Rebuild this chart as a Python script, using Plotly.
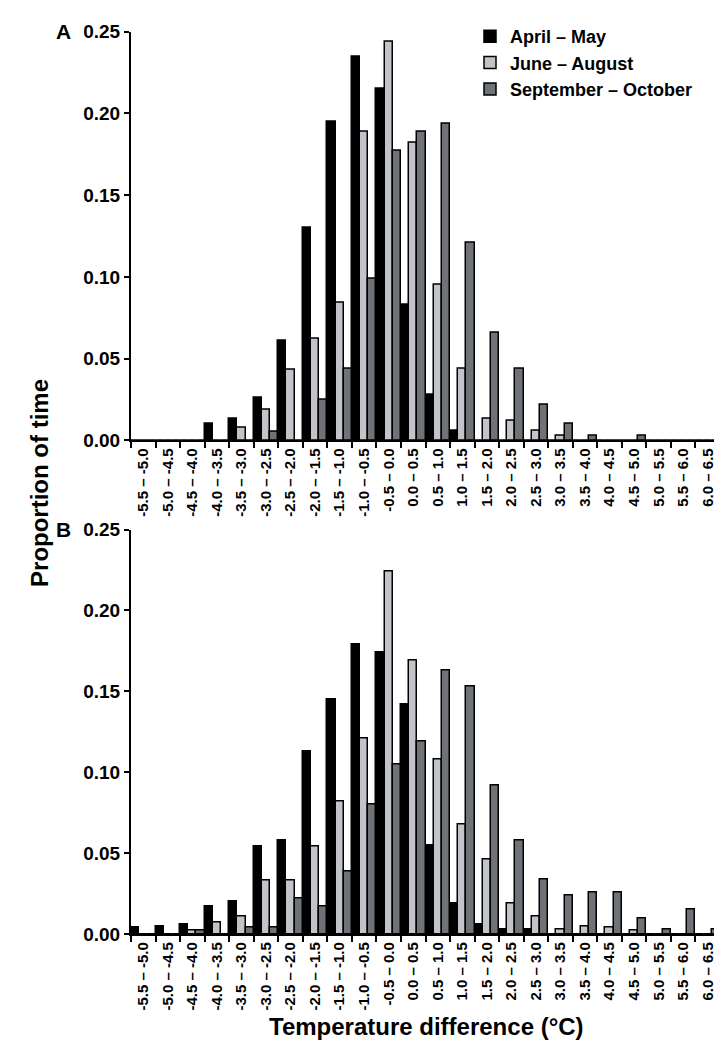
import plotly.graph_objects as go
from plotly.subplots import make_subplots

# temperature difference bins (degC)
bins = ["-5.5 – -5.0", "-5.0 – -4.5", "-4.5 – -4.0", "-4.0 – -3.5", "-3.5 – -3.0",
        "-3.0 – -2.5", "-2.5 – -2.0", "-2.0 – -1.5", "-1.5 – -1.0", "-1.0 – -0.5",
        "-0.5 – 0.0", "0.0 – 0.5", "0.5 – 1.0", "1.0 – 1.5", "1.5 – 2.0",
        "2.0 – 2.5", "2.5 – 3.0", "3.0 – 3.5", "3.5 – 4.0", "4.0 – 4.5",
        "4.5 – 5.0", "5.0 – 5.5", "5.5 – 6.0", "6.0 – 6.5"]

series_names = ["April – May", "June – August", "September – October"]

# panel A
a_apr_may = [0, 0, 0, 0.010, 0.013, 0.026, 0.061, 0.130, 0.195, 0.235, 0.215, 0.083,
             0.028, 0.006, 0, 0, 0, 0, 0, 0, 0, 0, 0, 0]
a_jun_aug = [0, 0, 0, 0, 0.008, 0.019, 0.043, 0.062, 0.084, 0.189, 0.244, 0.182,
             0.095, 0.044, 0.013, 0.012, 0.006, 0.003, 0, 0, 0, 0, 0, 0]
a_sep_oct = [0, 0, 0, 0, 0, 0.005, 0, 0.025, 0.044, 0.099, 0.177, 0.189,
             0.194, 0.121, 0.066, 0.044, 0.022, 0.010, 0.003, 0, 0.003, 0, 0, 0]

# panel B
b_apr_may = [0.004, 0.005, 0.006, 0.017, 0.020, 0.054, 0.058, 0.113, 0.145, 0.179, 0.174, 0.142,
             0.055, 0.019, 0.006, 0.003, 0.003, 0, 0, 0, 0, 0, 0, 0]
b_jun_aug = [0, 0, 0.002, 0.007, 0.011, 0.033, 0.033, 0.054, 0.082, 0.121, 0.224, 0.169,
             0.108, 0.068, 0.046, 0.019, 0.011, 0.003, 0.005, 0.004, 0.002, 0, 0, 0]
b_sep_oct = [0, 0, 0.002, 0, 0.004, 0.004, 0.022, 0.017, 0.039, 0.080, 0.105, 0.119,
             0.163, 0.153, 0.092, 0.058, 0.034, 0.024, 0.026, 0.026, 0.010, 0.003, 0.015, 0.003]

colors = ["#000000", "#c2c4ca", "#6f7377"]
W, H = 722, 1046
FONT = "Arial, Liberation Sans, sans-serif"

fig = make_subplots(rows=2, cols=1)

panels = [(a_apr_may, a_jun_aug, a_sep_oct), (b_apr_may, b_jun_aug, b_sep_oct)]
for row, data in enumerate(panels, start=1):
    for name, vals, col in zip(series_names, data, colors):
        fig.add_trace(go.Bar(x=bins, y=vals, name=name, marker_color=col,
                             marker_line=dict(color="black", width=1.5),
                             showlegend=(row == 1)), row=row, col=1)

fig.update_layout(
    width=W, height=H,
    margin=dict(l=0, r=0, t=0, b=0),
    paper_bgcolor="white", plot_bgcolor="white",
    barmode="group", bargap=0, bargroupgap=0,
    font=dict(family=FONT, color="black"),
    legend=dict(x=462 / W, y=1.0, xanchor="left", yanchor="top",
                font=dict(size=18, weight="bold"), tracegroupgap=0,
                bgcolor="rgba(0,0,0,0)"),
)

# panel positions (px from the top)
doms = [(14, 431), (522, 935)]
for i, (top, bot) in enumerate(doms, start=1):
    fig.update_yaxes(domain=[1 - bot / H, 1 - top / H], range=[0, 0.25],
                     tickvals=[0, 0.05, 0.10, 0.15, 0.20, 0.25], tickformat=".2f",
                     showgrid=False, zeroline=False, showline=True, linecolor="black",
                     linewidth=2, ticks="outside", ticklen=5, tickwidth=2, tickcolor="black",
                     tickfont=dict(size=19, weight="bold"), row=i, col=1)
    fig.update_xaxes(domain=[123 / W, 712 / W], range=[-0.5, 23.5],
                     showgrid=False, showline=True, linecolor="black", linewidth=2,
                     ticks="outside", tickson="boundaries", ticklen=6, tickwidth=2,
                     tickcolor="black", tickangle=-90,
                     tickfont=dict(size=15, weight="bold"), row=i, col=1)

fig.add_annotation(text="<b>A</b>", x=46 / W, y=1 - 14 / H, xref="paper", yref="paper",
                   xanchor="left", yanchor="middle", showarrow=False, font=dict(size=21))
fig.add_annotation(text="<b>B</b>", x=46 / W, y=1 - 522 / H, xref="paper", yref="paper",
                   xanchor="left", yanchor="middle", showarrow=False, font=dict(size=21))
fig.add_annotation(text="<b>Proportion of time</b>", x=16 / W, y=1 - 475 / H,
                   xref="paper", yref="paper", textangle=-90, showarrow=False,
                   font=dict(size=24))
fig.add_annotation(text="<b>Temperature difference (°C)</b>", x=418 / W, y=1 - 1045 / H,
                   xref="paper", yref="paper", yanchor="bottom", showarrow=False,
                   font=dict(size=24))

fig.write_html("out.html")
